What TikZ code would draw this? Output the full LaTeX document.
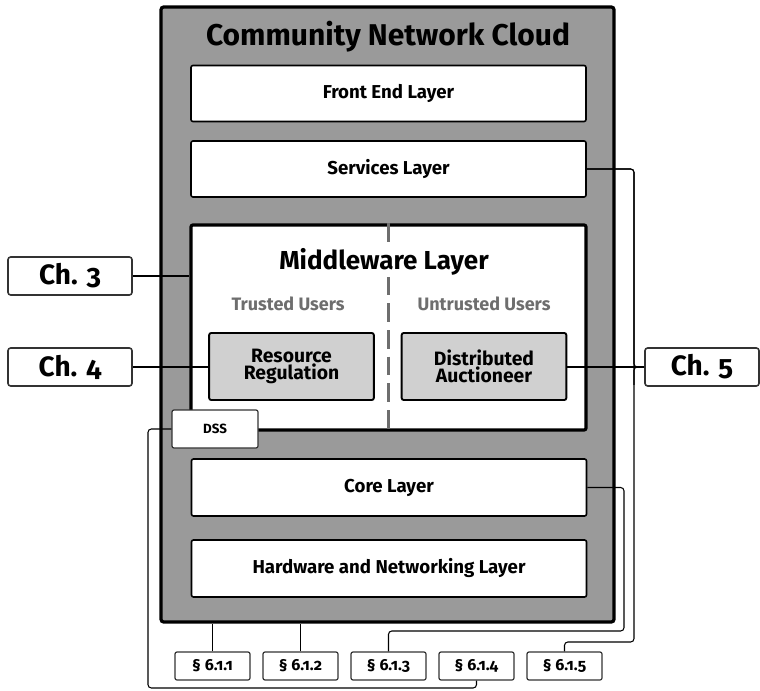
\documentclass[tikz,border=0pt]{standalone}
\usepackage{fontspec}
\setmainfont{Fira Sans}[Numbers=OldStyle]
\usepackage{tikz}

\definecolor{cloudgray}{HTML}{9A9A9A}
\definecolor{subgray}{HTML}{D0D0D0}
\definecolor{usergray}{HTML}{6E6E6E}

\tikzset{
    layer/.style = {draw, fill=white, line width=1.2pt, rounded corners=1.5pt,
        minimum width=296.25pt, minimum height=42pt, inner sep=0pt,
        font=\fontsize{14}{16}\selectfont\bfseries},
    subbox/.style = {draw, fill=subgray, line width=1.4pt, rounded corners=1.5pt,
        minimum width=123.5pt, minimum height=50.25pt, inner sep=0pt, align=center,
        font=\fontsize{14.5}{13}\selectfont\bfseries},
    chbox/.style = {draw=black!80, fill=white, line width=1.2pt, rounded corners=2pt,
        minimum width=93pt, minimum height=28.5pt, inner sep=0pt,
        font=\fontsize{21}{24}\selectfont\bfseries},
    secbox/.style = {draw=black!80, fill=white, line width=0.9pt, rounded corners=1.5pt,
        minimum width=56.25pt, minimum height=21pt, inner sep=0pt,
        font=\fontsize{12}{14}\selectfont\bfseries},
    link/.style = {draw, line width=0.8pt, rounded corners=2.5pt}
}

\begin{document}
\begin{tikzpicture}[x=0.75pt, y=-0.75pt]
        \useasboundingbox (0,0) rectangle (760,691);

        % the cloud and its layers
        \node [draw, fill=cloudgray, line width=2.4pt, rounded corners=2pt,
            minimum width=339.75pt, minimum height=461.25pt] (cloud) at (387.5,314.5) {};
        \node [font=\fontsize{22.5}{26}\selectfont\bfseries] (title) at (388,37) {Community Network Cloud};

        \node [layer] (front) at (388.5,93.5) {Front End Layer};
        \node [layer] (services) at (388.5,169) {Services Layer};

        \node [layer, line width=2.4pt, minimum height=153.75pt] (middleware) at (388.5,327.5) {};
        \draw [usergray, line width=1.8pt, dash pattern=on 14pt off 6pt] (middleware.north) -- (middleware.south);
        \node [fill=white, inner sep=1pt, font=\fontsize{19.5}{22}\selectfont\bfseries] (mwtitle) at (384,262) {Middleware Layer};
        \node [usergray, font=\fontsize{13.5}{16}\selectfont\bfseries] (trusted) at (288,304) {Trusted Users};
        \node [usergray, font=\fontsize{13.5}{16}\selectfont\bfseries] (untrusted) at (484,304) {Untrusted Users};
        \node [subbox] (resource) at (291.5,366.5) {Resource\\Regulation};
        \node [subbox] (auctioneer) at (484,366.5) {Distributed\\Auctioneer};

        \node [layer, minimum height=42.75pt] (core) at (389,487.5) {Core Layer};
        \node [layer, minimum height=42.75pt] (hardware) at (389,568.5) {Hardware and Networking Layer};

        \node [secbox, minimum width=64.5pt, minimum height=28.5pt, font=\fontsize{10}{12}\selectfont\bfseries] (dss) at (215,429) {DSS};

        % chapters
        \node [chbox] (ch3) at (70,276) {Ch. 3};
        \node [chbox] (ch4) at (70,367) {Ch. 4};
        \node [chbox, minimum width=85.5pt] (ch5) at (702,367) {Ch. 5};

        % sections
        \node [secbox] (sec1) at (212.5,666) {\S\ 6.1.1};
        \node [secbox] (sec2) at (300.5,666) {\S\ 6.1.2};
        \node [secbox] (sec3) at (388.5,666) {\S\ 6.1.3};
        \node [secbox] (sec4) at (476.5,666) {\S\ 6.1.4};
        \node [secbox] (sec5) at (564.5,666) {\S\ 6.1.5};

        % links
        \draw [link] (ch3.east) -- (ch3.east -| middleware.west);
        \draw [link] (ch4.east) -- (ch4.east -| resource.west);
        \draw [link] (ch5.west) -- (ch5.west -| auctioneer.east);
        \draw [link] (ch5.west) -- (634,367) |- (services.east);
        \draw [link] (ch5.west) -- (634,367) -- (634,385);
        \draw [link] (services.east) -| (634,642) -| (sec5.north);
        \draw [link] (core.east) -| (624,631) -| (sec3.north);
        \draw [link] (dss.west) -| (148,688) -| (sec4.south);
        \draw [link] (sec1.north) -- (sec1.north |- cloud.south);
        \draw [link] (sec2.north) -- (sec2.north |- cloud.south);

\end{tikzpicture}
\end{document}
